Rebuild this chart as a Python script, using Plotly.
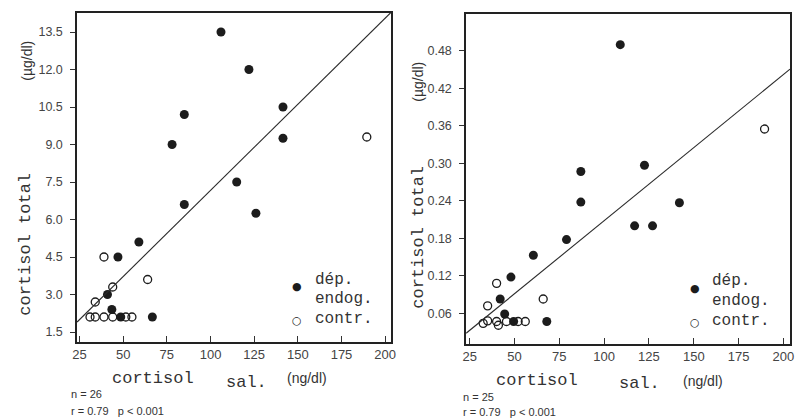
import plotly.graph_objects as go

W, H = 796, 419

# ---- left panel: total cortisol (µg/dl) vs salivary cortisol (ng/dl) ----
left_dep_x = [106, 122, 141.5, 85, 78, 141.5, 115, 85, 126, 59, 47, 41, 43.5, 48.6, 66.7]
left_dep_y = [13.5, 12.0, 10.5, 10.2, 9.0, 9.25, 7.5, 6.6, 6.25, 5.1, 4.5, 3.0, 2.4, 2.1, 2.1]
left_ctr_x = [189.5, 39, 64, 44, 34, 31, 34, 39, 44, 51.5, 55]
left_ctr_y = [9.3, 4.5, 3.6, 3.3, 2.7, 2.1, 2.1, 2.1, 2.1, 2.1, 2.1]
left_fit = (0.274, 0.0689)          # intercept, slope
left_xrange = [23.6, 203.4]
left_yrange = [1.1, 14.26]
left_yticks = [1.5, 3.0, 4.5, 6.0, 7.5, 9.0, 10.5, 12.0, 13.5]
left_ytext = ["1.5", "3.0", "4.5", "6.0", "7.5", "9.0", "10.5", "12.0", "13.5"]

# ---- right panel: free cortisol (µg/dl) vs salivary cortisol (ng/dl) ----
right_dep_x = [109, 122.5, 87, 87, 142, 117, 127, 79, 60.5, 48, 42, 44.5, 49.5, 68]
right_dep_y = [0.49, 0.297, 0.287, 0.238, 0.237, 0.200, 0.200, 0.178, 0.153, 0.118, 0.083, 0.059, 0.047, 0.047]
right_ctr_x = [189.5, 40, 66, 35, 32.5, 35, 40, 41, 45.5, 52, 56]
right_ctr_y = [0.355, 0.108, 0.083, 0.072, 0.044, 0.048, 0.047, 0.041, 0.047, 0.047, 0.047]
right_fit = (-0.0255, 0.002338)
right_xrange = [23.0, 203.7]
right_yrange = [0.011, 0.539]
right_yticks = [0.06, 0.12, 0.18, 0.24, 0.30, 0.36, 0.42, 0.48]
right_ytext = ["0.06", "0.12", "0.18", "0.24", "0.30", "0.36", "0.42", "0.48"]

xticks = [25, 50, 75, 100, 125, 150, 175, 200]
stats_left = ["n = 26", "r = 0.79   p < 0.001"]
stats_right = ["n = 25", "r = 0.79   p < 0.001"]
legend_labels = ["dép.", "endog.", "contr."]

INK = "#1c1c1c"
TXT = "#333333"
MONO = "Liberation Mono, DejaVu Sans Mono, monospace"
SANS = "Liberation Sans, Arial, sans-serif"
SYM = "DejaVu Sans, sans-serif"

fig = go.Figure()


def add_panel(xa, ya, dx, dy, cx, cy, fit, xr):
    fig.add_trace(go.Scatter(
        x=dx, y=dy, mode="markers", xaxis=xa, yaxis=ya, showlegend=False,
        name="dép. endog.",
        marker=dict(symbol="circle", size=9, color=INK, line=dict(width=0))))
    fig.add_trace(go.Scatter(
        x=cx, y=cy, mode="markers", xaxis=xa, yaxis=ya, showlegend=False,
        name="contr.",
        marker=dict(symbol="circle-open", size=8, color=INK, line=dict(width=1.3))))
    b0, b1 = fit
    fig.add_trace(go.Scatter(
        x=xr, y=[b0 + b1 * v for v in xr], mode="lines", xaxis=xa, yaxis=ya,
        showlegend=False, line=dict(color="#2a2a2a", width=1.1)))


add_panel("x", "y", left_dep_x, left_dep_y, left_ctr_x, left_ctr_y, left_fit, left_xrange)
add_panel("x2", "y2", right_dep_x, right_dep_y, right_ctr_x, right_ctr_y, right_fit, right_xrange)


def px(x):
    return x / W


def py(y):
    return 1 - y / H


axis_common = dict(showline=True, mirror=True, linecolor="#222", linewidth=1.6,
                   showgrid=False, zeroline=False, ticks="inside", ticklen=6,
                   tickcolor="#333", tickwidth=1,
                   tickfont=dict(family=SANS, size=13, color="#444"))
yaxis_common = dict(showline=True, mirror=True, linecolor="#222", linewidth=1.6,
                    showgrid=False, zeroline=False, ticks="outside", ticklen=5,
                    tickcolor="#333", tickwidth=1, ticklabelstandoff=5,
                    tickfont=dict(family=SANS, size=12.5, color="#444"))

fig.update_layout(
    width=W, height=H, margin=dict(l=0, r=0, t=0, b=0),
    paper_bgcolor="white", plot_bgcolor="white", showlegend=False,
    xaxis=dict(domain=[px(73), px(391)], range=left_xrange, tickvals=xticks,
               anchor="y", **axis_common),
    yaxis=dict(domain=[py(342), py(13)], range=left_yrange, tickvals=left_yticks,
               ticktext=left_ytext, anchor="x", **yaxis_common),
    xaxis2=dict(domain=[px(467), px(795)], range=right_xrange, tickvals=xticks,
                anchor="y2", **axis_common),
    yaxis2=dict(domain=[py(344), py(14)], range=right_yrange, tickvals=right_yticks,
                ticktext=right_ytext, anchor="x2", **yaxis_common),
)

ann = []


def text(x, y, s, family, size, angle=0, color=TXT, xanchor="center"):
    ann.append(dict(x=px(x), y=py(y), xref="paper", yref="paper", text=s,
                    showarrow=False, textangle=angle, xanchor=xanchor, yanchor="middle",
                    borderpad=0,
                    font=dict(family=family, size=size, color=color)))


# axis titles, left panel
text(150, 378, "cortisol", MONO, 17)
text(245, 382, "sal.", MONO, 17)
text(306, 378, "(ng/dl)", SANS, 14)
text(20, 244, "cortisol total", MONO, 17, angle=-90)
text(22, 61, "(µg/dl)", SANS, 14, angle=-90)
# axis titles, right panel
text(539, 380, "cortisol", MONO, 17)
text(643, 383, "sal.", MONO, 17)
text(707, 381, "(ng/dl)", SANS, 14)
text(418, 237, "cortisol total", MONO, 17, angle=-90)
text(418, 82, "(µg/dl)", SANS, 14, angle=-90)

# key: filled = endogenous depression, open = controls
keys = [
    # symbol x, text x, filled-symbol y, label rows y
    (296, 313, 286, (279.5, 299, 319)),
    (699, 715, 288, (280.5, 300.5, 321)),
]
for sx, tx, dot_y, rows in keys:
    text(sx, dot_y, "●", SYM, 11, color=INK)
    text(sx, rows[2] + 1, "○", SYM, 11, color=INK)
    for lab, yy in zip(legend_labels, rows):
        text(tx, yy, lab, MONO, 16, xanchor="left")

# statistics
text(66, 394, stats_left[0], SANS, 11, xanchor="left")
text(66, 410.7, stats_left[1], SANS, 11, xanchor="left")
text(463, 396.7, stats_right[0], SANS, 11, xanchor="left")
text(463, 411.7, stats_right[1], SANS, 11, xanchor="left")

fig.update_layout(annotations=ann)
fig.write_html("out.html")
